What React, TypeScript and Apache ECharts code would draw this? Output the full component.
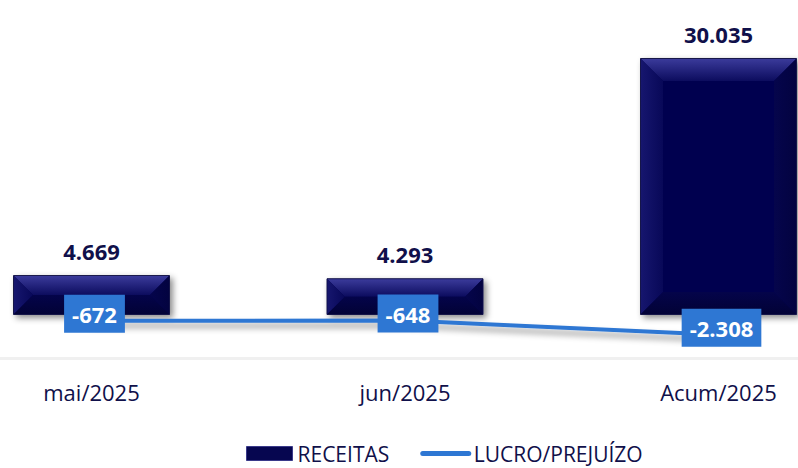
import React, { useEffect, useRef } from "react";
import * as echarts from "echarts";

const categories = ["mai/2025", "jun/2025", "Acum/2025"];
const receitas = [4669, 4293, 30035];
const lucro = [-672, -648, -2308];
const legendNames = ["RECEITAS", "LUCRO/PREJUÍZO"];

const fmt = (v: number) => {
  const s = Math.abs(v).toString().replace(/\B(?=(\d{3})+(?!\d))/g, ".");
  return (v < 0 ? "-" : "") + s;
};

const FONT = "'Open Sans', 'Noto Sans', sans-serif";
const NAVY = "#060650";
const TEXT = "#10104a";
const BLUE = "#2e77d3";

export default function App() {
  const ref = useRef<HTMLDivElement>(null);
  useEffect(() => {
    if (!ref.current) return;
    const chart = echarts.init(ref.current, undefined, { renderer: "svg" });
    const bevelData = receitas.map((v, i) => [i, v]);
    const lucroPts = lucro.map((v, i) => [i, v]);
    chart.setOption({
      animation: false,
      backgroundColor: "#ffffff",
      textStyle: { fontFamily: FONT },
      grid: {
        left: -65.25,
        right: -77.25,
        top: 15.5,
        bottom: 110.2,
        containLabel: false,
        outerBoundsMode: "none",
      },
      legend: {
        left: 246,
        top: 443,
        padding: 0,
        itemWidth: 46,
        itemHeight: 14,
        itemGap: 31,
        textStyle: { fontFamily: FONT, fontSize: 21, color: TEXT },
        data: [
          { name: legendNames[0], icon: "rect", itemStyle: { color: NAVY, borderColor: "#3a3a8a", borderWidth: 1 } },
          { name: legendNames[1], itemStyle: { opacity: 0 }, lineStyle: { width: 5, cap: "round", color: BLUE } },
        ],
      },
      xAxis: {
        type: "category",
        data: categories,
        axisLine: { show: true, onZero: false, lineStyle: { color: "#f0f0f0", width: 3 } },
        axisTick: { show: false },
        axisLabel: { fontFamily: FONT, fontSize: 22, color: TEXT, margin: 23 },
        splitLine: { show: false },
      },
      yAxis: {
        type: "value",
        min: -5000,
        max: 35000,
        interval: 5000,
        show: false,
        splitLine: { show: false },
      },
      series: [
        {
          name: legendNames[0],
          type: "bar",
          data: receitas,
          barWidth: 157,
          itemStyle: {
            color: NAVY,
            borderColor: "#15154a",
            borderWidth: 1,
            shadowColor: "rgba(0,0,0,0.45)",
            shadowBlur: 6,
            shadowOffsetX: 3,
            shadowOffsetY: 3,
          },
          label: {
            show: true,
            position: "top",
            distance: 13,
            fontFamily: FONT,
            fontSize: 22,
            fontWeight: "bold",
            color: TEXT,
            formatter: (p: any) => fmt(p.value),
          },
          z: 2,
        },
        {
          type: "custom",
          silent: true,
          data: bevelData,
          encode: { x: 0, y: 1 },
          z: 3,
          renderItem: (params: any, api: any) => {
            const idx = api.value(0);
            const val = api.value(1);
            const top = api.coord([idx, val]);
            const base = api.coord([idx, 0]);
            const w = 157;
            const x0 = top[0] - w / 2 + 1;
            const x1 = top[0] + w / 2 - 1;
            const y0 = top[1] + 1;
            const y1 = base[1] - 1;
            const h = y1 - y0;
            const b = Math.min(22, h / 2);
            const ix0 = x0 + b, ix1 = x1 - b, iy0 = y0 + b, iy1 = y1 - b;
            return {
              type: "group",
              children: [
                {
                  type: "polygon",
                  shape: { points: [[x0, y0], [x1, y0], [ix1, iy0], [ix0, iy0]] },
                  style: {
                    fill: new echarts.graphic.LinearGradient(0, 0, 0, 1, [
                      { offset: 0, color: "#3a3a9a" },
                      { offset: 1, color: "#0c0c5e" },
                    ]),
                  },
                },
                {
                  type: "polygon",
                  shape: { points: [[x0, y0], [ix0, iy0], [ix0, iy1], [x0, y1]] },
                  style: {
                    fill: new echarts.graphic.LinearGradient(0, 0, 1, 0, [
                      { offset: 0, color: "#16166e" },
                      { offset: 1, color: "#080858" },
                    ]),
                  },
                },
                {
                  type: "polygon",
                  shape: { points: [[x1, y0], [x1, y1], [ix1, iy1], [ix1, iy0]] },
                  style: {
                    fill: new echarts.graphic.LinearGradient(1, 0, 0, 0, [
                      { offset: 0, color: "#030340" },
                      { offset: 1, color: "#05054c" },
                    ]),
                  },
                },
                {
                  type: "polygon",
                  shape: { points: [[x0, y1], [ix0, iy1], [ix1, iy1], [x1, y1]] },
                  style: {
                    fill: new echarts.graphic.LinearGradient(0, 1, 0, 0, [
                      { offset: 0, color: "#020236" },
                      { offset: 1, color: "#04044a" },
                    ]),
                  },
                },
              ],
            };
          },
        },
        {
          name: legendNames[1],
          type: "line",
          data: lucro,
          symbol: "none",
          z: 5,
          itemStyle: { color: BLUE },
          lineStyle: {
            color: BLUE,
            width: 4,
            cap: "round",
            shadowColor: "rgba(0,0,0,0.4)",
            shadowBlur: 6,
            shadowOffsetY: 5,
          },
        },
        {
          type: "custom",
          silent: true,
          data: lucroPts,
          encode: { x: 0, y: 1 },
          z: 6,
          renderItem: (params: any, api: any) => {
            const idx = api.value(0);
            const val = api.value(1);
            const p = api.coord([idx, val]);
            return {
              type: "text",
              x: p[0] + 3,
              y: p[1] - 7,
              style: {
                text: fmt(val),
                align: "center",
                verticalAlign: "middle",
                font: `bold 22px ${FONT}`,
                fill: "#ffffff",
                backgroundColor: BLUE,
                padding: [8, 8, 8, 8],
              },
            };
          },
        },
      ],
    });
    return () => chart.dispose();
  }, []);
  return (
    <div
      ref={ref}
      style={{ position: "fixed", left: 0, top: 0, width: 798, height: 468 }}
    />
  );
}
